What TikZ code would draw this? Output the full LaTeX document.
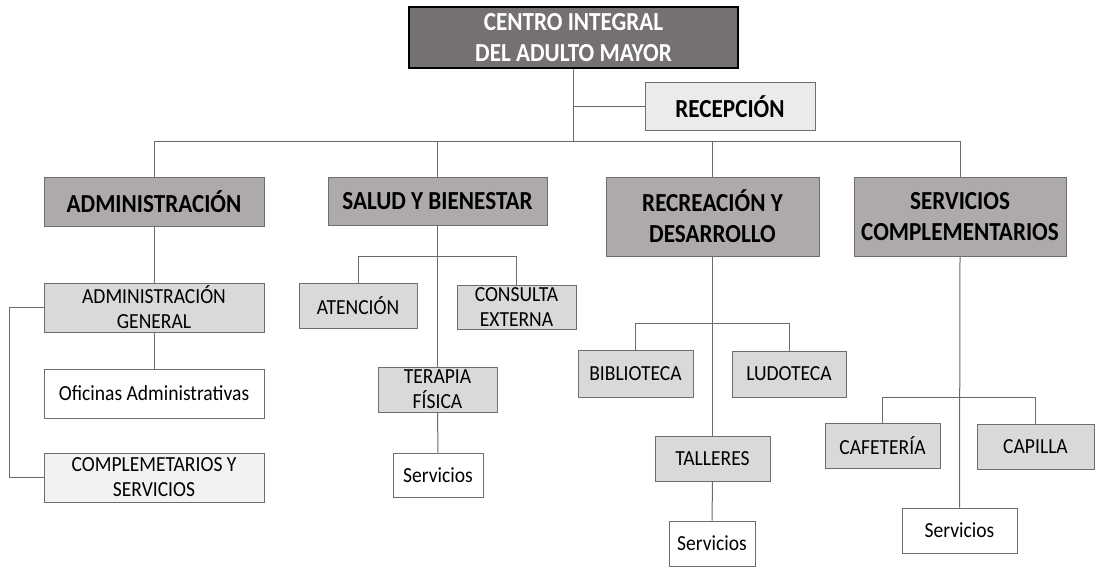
\documentclass[tikz,border=0pt]{standalone}
\usepackage{fontspec}
\setmainfont{Carlito}
\newfontfamily\narrowbold[FakeStretch=0.89]{Carlito}
\newfontfamily\narrowreg[FakeStretch=0.91]{Carlito}
\definecolor{topfill}{HTML}{767171}
\definecolor{lvone}{HTML}{AEAAAA}
\definecolor{lvtwo}{HTML}{D9D9D9}
\definecolor{recfill}{HTML}{EBEBEB}
\definecolor{lightfill}{HTML}{F2F2F2}
\definecolor{edge}{HTML}{6E6E6E}
\definecolor{conn}{HTML}{6A6A6A}
\begin{document}
\begin{tikzpicture}[x=1pt,y=-1pt,
  box/.style={draw=edge, line width=1pt, inner sep=0pt, align=center, text=black},
  bigfont/.style={font=\narrowbold\bfseries\fontsize{26}{31}\selectfont},
  smallfont/.style={font=\narrowreg\fontsize{21.5}{25}\selectfont},
  topbox/.style={box, draw=black, line width=2pt, fill=topfill, text=white, bigfont},
  lone/.style={box, fill=lvone, bigfont},
  ltwo/.style={box, fill=lvtwo, smallfont},
  lwhite/.style={box, fill=white, smallfont},
  conn/.style={draw=conn, line width=1pt}]
\useasboundingbox (0,0) rectangle (1111,568);
\fill[white] (0,0) rectangle (1111,568);

% top
\node[topbox, minimum width=329pt, minimum height=61pt] (top) at (573.5,37.5) {CENTRO INTEGRAL\\DEL ADULTO MAYOR};
\node[box, fill=recfill, bigfont, minimum width=170pt, minimum height=48pt] (recep) at (730,106.5) {RECEPCIÓN};

% level 1
\node[lone, minimum width=220pt, minimum height=49pt] (adm) at (154,201.5) {ADMINISTRACIÓN};
\node[lone, minimum width=219pt, minimum height=48pt] (sal) at (437.5,201) {SALUD Y BIENESTAR};
\node[lone, minimum width=213pt, minimum height=79pt] (rec) at (712.5,216.5) {RECREACIÓN Y\\DESARROLLO};
\node[lone, minimum width=212pt, minimum height=79pt] (ser) at (960,216.5) {SERVICIOS\\COMPLEMENTARIOS};

% administration column
\node[ltwo, minimum width=220pt, minimum height=49pt] (ag) at (154,307.5) {ADMINISTRACIÓN\\GENERAL};
\node[lwhite, minimum width=220pt, minimum height=49pt] (of) at (154,393.5) {Oficinas Administrativas};
\node[box, fill=lightfill, smallfont, minimum width=220pt, minimum height=49pt] (cs) at (154,477.5) {COMPLEMETARIOS Y\\SERVICIOS};

% salud column
\node[ltwo, minimum width=118pt, minimum height=45pt] (at) at (358,305.5) {ATENCIÓN};
\node[ltwo, minimum width=119pt, minimum height=44pt] (ce) at (516.5,307) {CONSULTA\\EXTERNA};
\node[ltwo, minimum width=119pt, minimum height=45pt] (ter) at (437.5,389.5) {TERAPIA\\FÍSICA};
\node[lwhite, minimum width=90pt, minimum height=44pt] (sv1) at (438,475) {Servicios};

% recreacion column
\node[ltwo, minimum width=115pt, minimum height=47pt] (bib) at (635.5,373.5) {BIBLIOTECA};
\node[ltwo, minimum width=114pt, minimum height=46pt] (lud) at (789,374) {LUDOTECA};
\node[ltwo, minimum width=115pt, minimum height=45pt] (tal) at (712.5,458.5) {TALLERES};
\node[lwhite, minimum width=86pt, minimum height=45pt] (sv2) at (712,543.5) {Servicios};

% servicios column
\node[ltwo, minimum width=115pt, minimum height=45pt] (caf) at (882.5,445.5) {CAFETERÍA};
\node[ltwo, minimum width=117pt, minimum height=45pt] (cap) at (1035.5,446.5) {CAPILLA};
\node[lwhite, minimum width=115pt, minimum height=45pt] (sv3) at (959.5,530.5) {Servicios};

% connectors
\coordinate (bus) at (573.5,141);
\draw[conn] (top.south) -- (bus);
\draw[conn] (top.south |- recep.west) -- (recep.west);
\draw[conn] (adm.north) -- (adm.north |- bus) -- (ser.north |- bus) -- (ser.north);
\draw[conn] (sal.north |- bus) -- (sal.north);
\draw[conn] (rec.north |- bus) -- (rec.north);

\draw[conn] (adm.south) -- (ag.north);
\draw[conn] (ag.south) -- (of.north);
\draw[conn] (ag.west) -- ++(-34,0) |- (cs.west);

\draw[conn] (sal.south) -- (ter.north);
\draw[conn] (at.north) -- ++(0,-26) -| (ce.north);
\draw[conn] (ter.south) -- (sv1.north);

\draw[conn] (rec.south) -- (tal.north);
\draw[conn] (bib.north) -- ++(0,-26) -| (lud.north);
\draw[conn] (tal.south) -- (sv2.north);

\draw[conn] (ser.south) -- (sv3.north);
\draw[conn] (caf.north) -- ++(0,-25) -| (cap.north);
\end{tikzpicture}
\end{document}
